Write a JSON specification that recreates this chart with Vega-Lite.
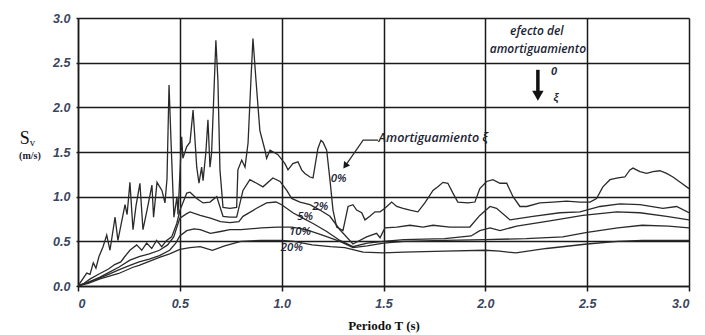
{
  "$schema": "https://vega.github.io/schema/vega-lite/v6.json",
  "width": 611,
  "height": 268,
  "autosize": "none",
  "padding": {"left": 78, "top": 18, "right": 16, "bottom": 49},
  "background": "white",
  "config": {"view": {"stroke": null}},
  "datasets": {
    "curves": [
      {"T": 0, "Sv": 0, "damping": "0%"},
      {"T": 0.043, "Sv": 0.145, "damping": "0%"},
      {"T": 0.059, "Sv": 0.13, "damping": "0%"},
      {"T": 0.075, "Sv": 0.26, "damping": "0%"},
      {"T": 0.088, "Sv": 0.2, "damping": "0%"},
      {"T": 0.103, "Sv": 0.33, "damping": "0%"},
      {"T": 0.123, "Sv": 0.44, "damping": "0%"},
      {"T": 0.141, "Sv": 0.57, "damping": "0%"},
      {"T": 0.157, "Sv": 0.4, "damping": "0%"},
      {"T": 0.182, "Sv": 0.77, "damping": "0%"},
      {"T": 0.196, "Sv": 0.51, "damping": "0%"},
      {"T": 0.231, "Sv": 0.91, "damping": "0%"},
      {"T": 0.241, "Sv": 0.8, "damping": "0%"},
      {"T": 0.255, "Sv": 1.16, "damping": "0%"},
      {"T": 0.27, "Sv": 0.63, "damping": "0%"},
      {"T": 0.285, "Sv": 0.9, "damping": "0%"},
      {"T": 0.304, "Sv": 1.15, "damping": "0%"},
      {"T": 0.319, "Sv": 0.63, "damping": "0%"},
      {"T": 0.339, "Sv": 0.85, "damping": "0%"},
      {"T": 0.363, "Sv": 1.13, "damping": "0%"},
      {"T": 0.371, "Sv": 0.77, "damping": "0%"},
      {"T": 0.388, "Sv": 1.16, "damping": "0%"},
      {"T": 0.412, "Sv": 1.07, "damping": "0%"},
      {"T": 0.427, "Sv": 0.93, "damping": "0%"},
      {"T": 0.437, "Sv": 1.2, "damping": "0%"},
      {"T": 0.447, "Sv": 2.25, "damping": "0%"},
      {"T": 0.457, "Sv": 1.6, "damping": "0%"},
      {"T": 0.471, "Sv": 0.77, "damping": "0%"},
      {"T": 0.486, "Sv": 1.0, "damping": "0%"},
      {"T": 0.491, "Sv": 0.8, "damping": "0%"},
      {"T": 0.509, "Sv": 1.67, "damping": "0%"},
      {"T": 0.515, "Sv": 1.43, "damping": "0%"},
      {"T": 0.534, "Sv": 1.56, "damping": "0%"},
      {"T": 0.55, "Sv": 1.61, "damping": "0%"},
      {"T": 0.565, "Sv": 1.97, "damping": "0%"},
      {"T": 0.583, "Sv": 1.33, "damping": "0%"},
      {"T": 0.594, "Sv": 1.15, "damping": "0%"},
      {"T": 0.607, "Sv": 1.33, "damping": "0%"},
      {"T": 0.614, "Sv": 1.18, "damping": "0%"},
      {"T": 0.628, "Sv": 1.5, "damping": "0%"},
      {"T": 0.638, "Sv": 1.86, "damping": "0%"},
      {"T": 0.648, "Sv": 1.33, "damping": "0%"},
      {"T": 0.656, "Sv": 1.49, "damping": "0%"},
      {"T": 0.668, "Sv": 2.2, "damping": "0%"},
      {"T": 0.677, "Sv": 2.75, "damping": "0%"},
      {"T": 0.687, "Sv": 2.3, "damping": "0%"},
      {"T": 0.697, "Sv": 1.3, "damping": "0%"},
      {"T": 0.712, "Sv": 0.88, "damping": "0%"},
      {"T": 0.746, "Sv": 0.87, "damping": "0%"},
      {"T": 0.779, "Sv": 0.88, "damping": "0%"},
      {"T": 0.785, "Sv": 1.3, "damping": "0%"},
      {"T": 0.804, "Sv": 1.41, "damping": "0%"},
      {"T": 0.82, "Sv": 1.33, "damping": "0%"},
      {"T": 0.835, "Sv": 1.6, "damping": "0%"},
      {"T": 0.849, "Sv": 2.3, "damping": "0%"},
      {"T": 0.859, "Sv": 2.77, "damping": "0%"},
      {"T": 0.874, "Sv": 2.3, "damping": "0%"},
      {"T": 0.893, "Sv": 1.74, "damping": "0%"},
      {"T": 0.918, "Sv": 1.52, "damping": "0%"},
      {"T": 0.926, "Sv": 1.43, "damping": "0%"},
      {"T": 0.943, "Sv": 1.52, "damping": "0%"},
      {"T": 0.982, "Sv": 1.47, "damping": "0%"},
      {"T": 1.016, "Sv": 1.37, "damping": "0%"},
      {"T": 1.031, "Sv": 1.3, "damping": "0%"},
      {"T": 1.055, "Sv": 1.37, "damping": "0%"},
      {"T": 1.08, "Sv": 1.39, "damping": "0%"},
      {"T": 1.098, "Sv": 1.3, "damping": "0%"},
      {"T": 1.114, "Sv": 1.26, "damping": "0%"},
      {"T": 1.139, "Sv": 1.22, "damping": "0%"},
      {"T": 1.154, "Sv": 1.21, "damping": "0%"},
      {"T": 1.178, "Sv": 1.54, "damping": "0%"},
      {"T": 1.193, "Sv": 1.63, "damping": "0%"},
      {"T": 1.203, "Sv": 1.61, "damping": "0%"},
      {"T": 1.221, "Sv": 1.52, "damping": "0%"},
      {"T": 1.237, "Sv": 1.19, "damping": "0%"},
      {"T": 1.252, "Sv": 0.85, "damping": "0%"},
      {"T": 1.27, "Sv": 0.66, "damping": "0%"},
      {"T": 1.301, "Sv": 0.62, "damping": "0%"},
      {"T": 1.326, "Sv": 0.89, "damping": "0%"},
      {"T": 1.35, "Sv": 0.91, "damping": "0%"},
      {"T": 1.368, "Sv": 0.85, "damping": "0%"},
      {"T": 1.393, "Sv": 0.82, "damping": "0%"},
      {"T": 1.409, "Sv": 0.74, "damping": "0%"},
      {"T": 1.433, "Sv": 0.78, "damping": "0%"},
      {"T": 1.458, "Sv": 0.83, "damping": "0%"},
      {"T": 1.483, "Sv": 0.83, "damping": "0%"},
      {"T": 1.507, "Sv": 0.87, "damping": "0%"},
      {"T": 1.54, "Sv": 0.94, "damping": "0%"},
      {"T": 1.565, "Sv": 0.89, "damping": "0%"},
      {"T": 1.596, "Sv": 0.87, "damping": "0%"},
      {"T": 1.63, "Sv": 0.85, "damping": "0%"},
      {"T": 1.669, "Sv": 0.83, "damping": "0%"},
      {"T": 1.703, "Sv": 0.93, "damping": "0%"},
      {"T": 1.743, "Sv": 1.07, "damping": "0%"},
      {"T": 1.767, "Sv": 1.11, "damping": "0%"},
      {"T": 1.792, "Sv": 1.16, "damping": "0%"},
      {"T": 1.816, "Sv": 1.15, "damping": "0%"},
      {"T": 1.841, "Sv": 1.04, "damping": "0%"},
      {"T": 1.865, "Sv": 0.94, "damping": "0%"},
      {"T": 1.915, "Sv": 0.93, "damping": "0%"},
      {"T": 1.949, "Sv": 0.94, "damping": "0%"},
      {"T": 1.973, "Sv": 1.09, "damping": "0%"},
      {"T": 2.006, "Sv": 1.17, "damping": "0%"},
      {"T": 2.037, "Sv": 1.19, "damping": "0%"},
      {"T": 2.072, "Sv": 1.15, "damping": "0%"},
      {"T": 2.105, "Sv": 1.15, "damping": "0%"},
      {"T": 2.136, "Sv": 1.0, "damping": "0%"},
      {"T": 2.17, "Sv": 0.89, "damping": "0%"},
      {"T": 2.203, "Sv": 0.89, "damping": "0%"},
      {"T": 2.268, "Sv": 0.93, "damping": "0%"},
      {"T": 2.332, "Sv": 0.94, "damping": "0%"},
      {"T": 2.399, "Sv": 0.95, "damping": "0%"},
      {"T": 2.465, "Sv": 0.94, "damping": "0%"},
      {"T": 2.514, "Sv": 0.94, "damping": "0%"},
      {"T": 2.546, "Sv": 0.98, "damping": "0%"},
      {"T": 2.577, "Sv": 1.11, "damping": "0%"},
      {"T": 2.612, "Sv": 1.19, "damping": "0%"},
      {"T": 2.651, "Sv": 1.21, "damping": "0%"},
      {"T": 2.685, "Sv": 1.22, "damping": "0%"},
      {"T": 2.71, "Sv": 1.3, "damping": "0%"},
      {"T": 2.725, "Sv": 1.32, "damping": "0%"},
      {"T": 2.759, "Sv": 1.28, "damping": "0%"},
      {"T": 2.792, "Sv": 1.26, "damping": "0%"},
      {"T": 2.823, "Sv": 1.28, "damping": "0%"},
      {"T": 2.857, "Sv": 1.29, "damping": "0%"},
      {"T": 2.89, "Sv": 1.26, "damping": "0%"},
      {"T": 2.921, "Sv": 1.22, "damping": "0%"},
      {"T": 2.964, "Sv": 1.15, "damping": "0%"},
      {"T": 3.0, "Sv": 1.09, "damping": "0%"},

      {"T": 0, "Sv": 0, "damping": "2%"},
      {"T": 0.03, "Sv": 0.03, "damping": "2%"},
      {"T": 0.06, "Sv": 0.08, "damping": "2%"},
      {"T": 0.108, "Sv": 0.14, "damping": "2%"},
      {"T": 0.15, "Sv": 0.19, "damping": "2%"},
      {"T": 0.18, "Sv": 0.24, "damping": "2%"},
      {"T": 0.21, "Sv": 0.27, "damping": "2%"},
      {"T": 0.23, "Sv": 0.33, "damping": "2%"},
      {"T": 0.255, "Sv": 0.4, "damping": "2%"},
      {"T": 0.288, "Sv": 0.46, "damping": "2%"},
      {"T": 0.313, "Sv": 0.4, "damping": "2%"},
      {"T": 0.337, "Sv": 0.48, "damping": "2%"},
      {"T": 0.362, "Sv": 0.42, "damping": "2%"},
      {"T": 0.386, "Sv": 0.51, "damping": "2%"},
      {"T": 0.411, "Sv": 0.44, "damping": "2%"},
      {"T": 0.435, "Sv": 0.51, "damping": "2%"},
      {"T": 0.46, "Sv": 0.55, "damping": "2%"},
      {"T": 0.485, "Sv": 0.7, "damping": "2%"},
      {"T": 0.501, "Sv": 0.85, "damping": "2%"},
      {"T": 0.534, "Sv": 1.04, "damping": "2%"},
      {"T": 0.55, "Sv": 1.05, "damping": "2%"},
      {"T": 0.583, "Sv": 0.98, "damping": "2%"},
      {"T": 0.614, "Sv": 0.93, "damping": "2%"},
      {"T": 0.648, "Sv": 0.94, "damping": "2%"},
      {"T": 0.681, "Sv": 1.0, "damping": "2%"},
      {"T": 0.712, "Sv": 0.78, "damping": "2%"},
      {"T": 0.746, "Sv": 0.77, "damping": "2%"},
      {"T": 0.779, "Sv": 0.77, "damping": "2%"},
      {"T": 0.81, "Sv": 1.07, "damping": "2%"},
      {"T": 0.844, "Sv": 1.19, "damping": "2%"},
      {"T": 0.877, "Sv": 1.15, "damping": "2%"},
      {"T": 0.908, "Sv": 1.11, "damping": "2%"},
      {"T": 0.957, "Sv": 1.21, "damping": "2%"},
      {"T": 0.992, "Sv": 1.17, "damping": "2%"},
      {"T": 1.025, "Sv": 1.07, "damping": "2%"},
      {"T": 1.049, "Sv": 0.98, "damping": "2%"},
      {"T": 1.09, "Sv": 0.94, "damping": "2%"},
      {"T": 1.139, "Sv": 0.91, "damping": "2%"},
      {"T": 1.188, "Sv": 0.85, "damping": "2%"},
      {"T": 1.237, "Sv": 0.78, "damping": "2%"},
      {"T": 1.286, "Sv": 0.63, "damping": "2%"},
      {"T": 1.35, "Sv": 0.47, "damping": "2%"},
      {"T": 1.417, "Sv": 0.55, "damping": "2%"},
      {"T": 1.466, "Sv": 0.59, "damping": "2%"},
      {"T": 1.483, "Sv": 0.54, "damping": "2%"},
      {"T": 1.507, "Sv": 0.65, "damping": "2%"},
      {"T": 1.565, "Sv": 0.66, "damping": "2%"},
      {"T": 1.63, "Sv": 0.68, "damping": "2%"},
      {"T": 1.694, "Sv": 0.66, "damping": "2%"},
      {"T": 1.743, "Sv": 0.68, "damping": "2%"},
      {"T": 1.826, "Sv": 0.66, "damping": "2%"},
      {"T": 1.924, "Sv": 0.66, "damping": "2%"},
      {"T": 1.973, "Sv": 0.79, "damping": "2%"},
      {"T": 2.023, "Sv": 0.89, "damping": "2%"},
      {"T": 2.055, "Sv": 0.87, "damping": "2%"},
      {"T": 2.121, "Sv": 0.74, "damping": "2%"},
      {"T": 2.234, "Sv": 0.78, "damping": "2%"},
      {"T": 2.366, "Sv": 0.82, "damping": "2%"},
      {"T": 2.465, "Sv": 0.83, "damping": "2%"},
      {"T": 2.563, "Sv": 0.89, "damping": "2%"},
      {"T": 2.661, "Sv": 0.92, "damping": "2%"},
      {"T": 2.759, "Sv": 0.91, "damping": "2%"},
      {"T": 2.872, "Sv": 0.87, "damping": "2%"},
      {"T": 2.939, "Sv": 0.89, "damping": "2%"},
      {"T": 3.0, "Sv": 0.82, "damping": "2%"},

      {"T": 0, "Sv": 0, "damping": "5%"},
      {"T": 0.05, "Sv": 0.04, "damping": "5%"},
      {"T": 0.108, "Sv": 0.1, "damping": "5%"},
      {"T": 0.15, "Sv": 0.15, "damping": "5%"},
      {"T": 0.2, "Sv": 0.21, "damping": "5%"},
      {"T": 0.255, "Sv": 0.29, "damping": "5%"},
      {"T": 0.3, "Sv": 0.33, "damping": "5%"},
      {"T": 0.35, "Sv": 0.36, "damping": "5%"},
      {"T": 0.4, "Sv": 0.4, "damping": "5%"},
      {"T": 0.44, "Sv": 0.46, "damping": "5%"},
      {"T": 0.47, "Sv": 0.55, "damping": "5%"},
      {"T": 0.5, "Sv": 0.76, "damping": "5%"},
      {"T": 0.534, "Sv": 0.81, "damping": "5%"},
      {"T": 0.55, "Sv": 0.83, "damping": "5%"},
      {"T": 0.6, "Sv": 0.79, "damping": "5%"},
      {"T": 0.65, "Sv": 0.76, "damping": "5%"},
      {"T": 0.7, "Sv": 0.72, "damping": "5%"},
      {"T": 0.746, "Sv": 0.71, "damping": "5%"},
      {"T": 0.79, "Sv": 0.72, "damping": "5%"},
      {"T": 0.81, "Sv": 0.78, "damping": "5%"},
      {"T": 0.877, "Sv": 0.87, "damping": "5%"},
      {"T": 0.926, "Sv": 0.93, "damping": "5%"},
      {"T": 0.972, "Sv": 0.94, "damping": "5%"},
      {"T": 1.0, "Sv": 0.91, "damping": "5%"},
      {"T": 1.055, "Sv": 0.82, "damping": "5%"},
      {"T": 1.104, "Sv": 0.76, "damping": "5%"},
      {"T": 1.154, "Sv": 0.7, "damping": "5%"},
      {"T": 1.221, "Sv": 0.61, "damping": "5%"},
      {"T": 1.286, "Sv": 0.51, "damping": "5%"},
      {"T": 1.35, "Sv": 0.44, "damping": "5%"},
      {"T": 1.42, "Sv": 0.48, "damping": "5%"},
      {"T": 1.5, "Sv": 0.5, "damping": "5%"},
      {"T": 1.6, "Sv": 0.52, "damping": "5%"},
      {"T": 1.8, "Sv": 0.53, "damping": "5%"},
      {"T": 1.93, "Sv": 0.56, "damping": "5%"},
      {"T": 1.973, "Sv": 0.62, "damping": "5%"},
      {"T": 2.023, "Sv": 0.65, "damping": "5%"},
      {"T": 2.072, "Sv": 0.62, "damping": "5%"},
      {"T": 2.154, "Sv": 0.67, "damping": "5%"},
      {"T": 2.317, "Sv": 0.73, "damping": "5%"},
      {"T": 2.479, "Sv": 0.79, "damping": "5%"},
      {"T": 2.645, "Sv": 0.83, "damping": "5%"},
      {"T": 2.759, "Sv": 0.82, "damping": "5%"},
      {"T": 2.89, "Sv": 0.78, "damping": "5%"},
      {"T": 3.0, "Sv": 0.74, "damping": "5%"},

      {"T": 0, "Sv": 0, "damping": "10%"},
      {"T": 0.05, "Sv": 0.04, "damping": "10%"},
      {"T": 0.108, "Sv": 0.09, "damping": "10%"},
      {"T": 0.15, "Sv": 0.13, "damping": "10%"},
      {"T": 0.2, "Sv": 0.18, "damping": "10%"},
      {"T": 0.255, "Sv": 0.23, "damping": "10%"},
      {"T": 0.3, "Sv": 0.27, "damping": "10%"},
      {"T": 0.35, "Sv": 0.3, "damping": "10%"},
      {"T": 0.4, "Sv": 0.34, "damping": "10%"},
      {"T": 0.45, "Sv": 0.4, "damping": "10%"},
      {"T": 0.48, "Sv": 0.48, "damping": "10%"},
      {"T": 0.5, "Sv": 0.56, "damping": "10%"},
      {"T": 0.534, "Sv": 0.62, "damping": "10%"},
      {"T": 0.57, "Sv": 0.64, "damping": "10%"},
      {"T": 0.6, "Sv": 0.63, "damping": "10%"},
      {"T": 0.65, "Sv": 0.59, "damping": "10%"},
      {"T": 0.7, "Sv": 0.61, "damping": "10%"},
      {"T": 0.746, "Sv": 0.63, "damping": "10%"},
      {"T": 0.8, "Sv": 0.63, "damping": "10%"},
      {"T": 0.9, "Sv": 0.65, "damping": "10%"},
      {"T": 0.98, "Sv": 0.66, "damping": "10%"},
      {"T": 1.05, "Sv": 0.66, "damping": "10%"},
      {"T": 1.12, "Sv": 0.63, "damping": "10%"},
      {"T": 1.2, "Sv": 0.57, "damping": "10%"},
      {"T": 1.286, "Sv": 0.5, "damping": "10%"},
      {"T": 1.35, "Sv": 0.43, "damping": "10%"},
      {"T": 1.42, "Sv": 0.45, "damping": "10%"},
      {"T": 1.5, "Sv": 0.48, "damping": "10%"},
      {"T": 1.6, "Sv": 0.5, "damping": "10%"},
      {"T": 1.8, "Sv": 0.51, "damping": "10%"},
      {"T": 2.0, "Sv": 0.52, "damping": "10%"},
      {"T": 2.2, "Sv": 0.53, "damping": "10%"},
      {"T": 2.38, "Sv": 0.55, "damping": "10%"},
      {"T": 2.5, "Sv": 0.6, "damping": "10%"},
      {"T": 2.65, "Sv": 0.65, "damping": "10%"},
      {"T": 2.77, "Sv": 0.68, "damping": "10%"},
      {"T": 2.9, "Sv": 0.67, "damping": "10%"},
      {"T": 3.0, "Sv": 0.65, "damping": "10%"},

      {"T": 0, "Sv": 0, "damping": "20%"},
      {"T": 0.05, "Sv": 0.03, "damping": "20%"},
      {"T": 0.108, "Sv": 0.08, "damping": "20%"},
      {"T": 0.2, "Sv": 0.14, "damping": "20%"},
      {"T": 0.27, "Sv": 0.21, "damping": "20%"},
      {"T": 0.3, "Sv": 0.23, "damping": "20%"},
      {"T": 0.4, "Sv": 0.32, "damping": "20%"},
      {"T": 0.45, "Sv": 0.36, "damping": "20%"},
      {"T": 0.5, "Sv": 0.41, "damping": "20%"},
      {"T": 0.55, "Sv": 0.43, "damping": "20%"},
      {"T": 0.6, "Sv": 0.44, "damping": "20%"},
      {"T": 0.66, "Sv": 0.4, "damping": "20%"},
      {"T": 0.72, "Sv": 0.45, "damping": "20%"},
      {"T": 0.8, "Sv": 0.5, "damping": "20%"},
      {"T": 0.9, "Sv": 0.51, "damping": "20%"},
      {"T": 1.0, "Sv": 0.51, "damping": "20%"},
      {"T": 1.06, "Sv": 0.5, "damping": "20%"},
      {"T": 1.15, "Sv": 0.46, "damping": "20%"},
      {"T": 1.24, "Sv": 0.44, "damping": "20%"},
      {"T": 1.31, "Sv": 0.43, "damping": "20%"},
      {"T": 1.4, "Sv": 0.38, "damping": "20%"},
      {"T": 1.5, "Sv": 0.37, "damping": "20%"},
      {"T": 1.6, "Sv": 0.38, "damping": "20%"},
      {"T": 1.8, "Sv": 0.39, "damping": "20%"},
      {"T": 2.0, "Sv": 0.4, "damping": "20%"},
      {"T": 2.07, "Sv": 0.39, "damping": "20%"},
      {"T": 2.15, "Sv": 0.37, "damping": "20%"},
      {"T": 2.3, "Sv": 0.42, "damping": "20%"},
      {"T": 2.5, "Sv": 0.47, "damping": "20%"},
      {"T": 2.65, "Sv": 0.5, "damping": "20%"},
      {"T": 2.77, "Sv": 0.51, "damping": "20%"},
      {"T": 3.0, "Sv": 0.51, "damping": "20%"}
    ],
    "curveLabels": [
      {"T": 1.28, "Sv": 1.2, "text": "0%"},
      {"T": 1.19, "Sv": 0.88, "text": "2%"},
      {"T": 1.115, "Sv": 0.77, "text": "5%"},
      {"T": 1.09, "Sv": 0.6, "text": "10%"},
      {"T": 1.05, "Sv": 0.43, "text": "20%"}
    ],
    "leader": [
      {"T": 1.473, "Sv": 1.633, "seq": 1},
      {"T": 1.4, "Sv": 1.633, "seq": 2},
      {"T": 1.32, "Sv": 1.37, "seq": 3}
    ],
    "leaderTip": [{"T": 1.312, "Sv": 1.345}],
    "leaderText": [{"T": 1.476, "Sv": 1.655, "text": "Amortiguamiento ξ"}],
    "effectText": [
      {"T": 2.253, "Sv": 2.85, "text": "efecto del"},
      {"T": 2.258, "Sv": 2.655, "text": "amortiguamiento"}
    ],
    "arrowShaft": [{"T": 2.258, "Sv": 2.42, "Sv2": 2.17}],
    "arrowHead": [{"T": 2.258, "Sv": 2.13}],
    "arrowText": [
      {"T": 2.337, "Sv": 2.39, "text": "0"},
      {"T": 2.347, "Sv": 2.11, "text": "ξ"}
    ],
    "unitText": [{"T": -0.236, "Sv": 1.45, "text": "(m/s)"}]
  },
  "layer": [
    {
      "data": {"name": "curves"},
      "mark": {"type": "line", "color": "#2a2a2a", "strokeWidth": 1.3, "clip": true},
      "encoding": {
        "x": {
          "field": "T", "type": "quantitative",
          "scale": {"domain": [0, 3], "nice": false, "zero": false},
          "axis": {
            "values": [0, 0.5, 1, 1.5, 2, 2.5, 3],
            "labelExpr": "datum.value == 0 ? '0' : format(datum.value, '.1f')",
            "grid": true, "gridColor": "#1a1a1a", "gridWidth": 1.5, "gridOpacity": 1,
            "domainColor": "#1a1a1a", "domainWidth": 1.5,
            "tickColor": "#1a1a1a", "tickWidth": 1.5, "tickSize": 5,
            "labelFont": "Liberation Sans", "labelFontStyle": "italic", "labelFontWeight": "bold",
            "labelFontSize": 12.5, "labelColor": "#3a4560", "labelPadding": 6,
            "title": "Periodo T (s)", "titleFont": "Liberation Serif", "titleFontWeight": "bold",
            "titleFontSize": 13, "titleColor": "#111", "titlePadding": 10
          }
        },
        "y": {
          "field": "Sv", "type": "quantitative",
          "scale": {"domain": [0, 3], "nice": false},
          "axis": {
            "values": [0, 0.5, 1, 1.5, 2, 2.5, 3],
            "format": ".1f",
            "grid": true, "gridColor": "#1a1a1a", "gridWidth": 1.5, "gridOpacity": 1,
            "domainColor": "#1a1a1a", "domainWidth": 1.5,
            "tickColor": "#1a1a1a", "tickWidth": 1.5, "tickSize": 2,
            "labelFont": "Liberation Sans", "labelFontStyle": "italic", "labelFontWeight": "bold",
            "labelFontSize": 12.5, "labelColor": "#3a4560", "labelPadding": 6,
            "title": "Sᵥ", "titleAngle": 0, "titleFont": "Liberation Serif", "titleFontWeight": "normal",
            "titleFontSize": 18, "titleColor": "#111", "titleX": -51, "titleY": 120,
            "titleAlign": "center", "titleBaseline": "middle"
          }
        },
        "detail": {"field": "damping", "type": "nominal"}
      }
    },
    {
      "data": {"name": "curveLabels"},
      "mark": {"type": "text", "font": "Open Sans", "fontStyle": "italic", "fontWeight": 600, "fontSize": 11.5, "color": "#1c2333", "align": "center", "baseline": "middle"},
      "encoding": {
        "x": {"field": "T", "type": "quantitative"},
        "y": {"field": "Sv", "type": "quantitative"},
        "text": {"field": "text"}
      }
    },
    {
      "data": {"name": "leader"},
      "mark": {"type": "line", "color": "#2a2a2a", "strokeWidth": 1.2},
      "encoding": {
        "x": {"field": "T", "type": "quantitative"},
        "y": {"field": "Sv", "type": "quantitative"},
        "order": {"field": "seq", "type": "quantitative"}
      }
    },
    {
      "data": {"name": "leaderTip"},
      "mark": {"type": "point", "shape": "triangle-up", "angle": 216, "filled": true, "size": 55, "color": "#1a1a1a", "opacity": 1},
      "encoding": {
        "x": {"field": "T", "type": "quantitative"},
        "y": {"field": "Sv", "type": "quantitative"}
      }
    },
    {
      "data": {"name": "leaderText"},
      "mark": {"type": "text", "font": "Open Sans", "fontStyle": "italic", "fontWeight": 600, "fontSize": 12.5, "color": "#1c2333", "align": "left", "baseline": "middle"},
      "encoding": {
        "x": {"field": "T", "type": "quantitative"},
        "y": {"field": "Sv", "type": "quantitative"},
        "text": {"field": "text"}
      }
    },
    {
      "data": {"name": "effectText"},
      "mark": {"type": "text", "font": "Open Sans", "fontStyle": "italic", "fontWeight": 600, "fontSize": 12, "color": "#1c2333", "align": "center", "baseline": "middle"},
      "encoding": {
        "x": {"field": "T", "type": "quantitative"},
        "y": {"field": "Sv", "type": "quantitative"},
        "text": {"field": "text"}
      }
    },
    {
      "data": {"name": "arrowShaft"},
      "mark": {"type": "rule", "color": "#111", "strokeWidth": 3.5},
      "encoding": {
        "x": {"field": "T", "type": "quantitative"},
        "y": {"field": "Sv", "type": "quantitative"},
        "y2": {"field": "Sv2"}
      }
    },
    {
      "data": {"name": "arrowHead"},
      "mark": {"type": "point", "shape": "triangle-down", "filled": true, "size": 130, "color": "#111", "opacity": 1},
      "encoding": {
        "x": {"field": "T", "type": "quantitative"},
        "y": {"field": "Sv", "type": "quantitative"}
      }
    },
    {
      "data": {"name": "arrowText"},
      "mark": {"type": "text", "font": "Liberation Sans", "fontStyle": "italic", "fontWeight": "bold", "fontSize": 11, "color": "#1c2333", "align": "center", "baseline": "middle"},
      "encoding": {
        "x": {"field": "T", "type": "quantitative"},
        "y": {"field": "Sv", "type": "quantitative"},
        "text": {"field": "text"}
      }
    },
    {
      "data": {"name": "unitText"},
      "mark": {"type": "text", "font": "Liberation Serif", "fontWeight": "bold", "fontSize": 10, "color": "#1c2333", "align": "center", "baseline": "middle"},
      "encoding": {
        "x": {"field": "T", "type": "quantitative"},
        "y": {"field": "Sv", "type": "quantitative"},
        "text": {"field": "text"}
      }
    }
  ]
}
